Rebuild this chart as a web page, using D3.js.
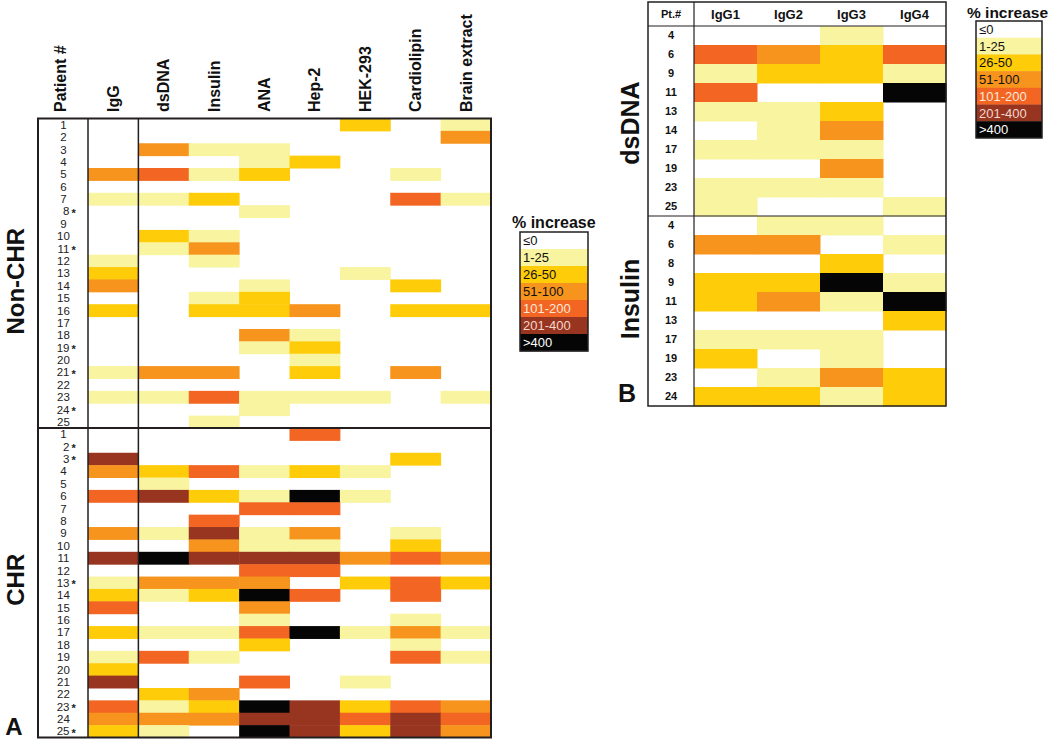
<!DOCTYPE html>
<html><head><meta charset="utf-8">
<script src="https://cdn.jsdelivr.net/npm/d3@7"></script>
<style>
body{margin:0;background:#fff;}
svg{display:block;font-family:"Liberation Sans",Arial,Helvetica,sans-serif;}
</style></head>
<body><svg id="chart" width="1050" height="740"></svg>
<script>
// ---------- DATA ----------
const columnsA = ["IgG","dsDNA","Insulin","ANA","Hep-2","HEK-293","Cardiolipin","Brain extract"];
const nonChrIds = d3.range(1,26).map(String);
const chrIds = d3.range(1,26).map(String);
const nonChrStars = ["8","11","19","21","24"];
const chrStars = ["2","3","13","23","25"];
// levels: 0 ≤0, 1 1-25, 2 26-50, 3 51-100, 4 101-200, 5 201-400, 6 >400
const nonChrLevels = [
  [0,0,0,0,0,2,0,1],
  [0,0,0,0,0,0,0,3],
  [0,3,1,1,0,0,0,0],
  [0,0,0,1,2,0,0,0],
  [3,4,1,2,0,0,1,0],
  [0,0,0,0,0,0,0,0],
  [1,1,2,0,0,0,4,1],
  [0,0,0,1,0,0,0,0],
  [0,0,0,0,0,0,0,0],
  [0,2,1,0,0,0,0,0],
  [0,1,3,0,0,0,0,0],
  [1,0,1,0,0,0,0,0],
  [2,0,0,0,0,1,0,0],
  [3,0,0,1,0,0,2,0],
  [0,0,1,2,0,0,0,0],
  [2,0,2,2,3,0,2,2],
  [0,0,0,0,0,0,0,0],
  [0,0,0,3,1,0,0,0],
  [0,0,0,1,2,0,0,0],
  [0,0,0,0,1,0,0,0],
  [1,3,3,0,2,0,3,0],
  [0,0,0,0,0,0,0,0],
  [1,1,4,1,1,1,0,1],
  [0,0,0,1,0,0,0,0],
  [0,0,1,0,0,0,0,0]
];
const chrLevels = [
  [0,0,0,0,4,0,0,0],
  [0,0,0,0,0,0,0,0],
  [5,0,0,0,0,0,2,0],
  [3,2,4,1,2,1,0,0],
  [0,1,0,0,0,0,0,0],
  [4,5,2,1,6,1,0,0],
  [0,0,0,4,4,0,0,0],
  [0,0,4,0,0,0,0,0],
  [3,1,5,1,3,0,1,0],
  [0,0,3,1,1,0,2,0],
  [5,6,5,5,5,3,4,3],
  [0,0,0,4,4,0,0,0],
  [1,3,3,3,0,2,4,2],
  [2,1,2,6,4,0,4,0],
  [4,0,0,3,0,0,0,0],
  [0,0,0,1,0,0,1,0],
  [2,1,1,4,6,1,3,1],
  [0,0,0,2,0,0,1,0],
  [1,4,1,0,0,0,4,1],
  [2,0,0,0,0,0,0,0],
  [5,0,0,4,0,1,0,0],
  [0,2,3,0,0,0,0,0],
  [4,1,2,6,5,2,4,3],
  [3,3,3,5,5,4,5,4],
  [2,1,0,6,5,2,5,3]
];
const columnsB = ["IgG1","IgG2","IgG3","IgG4"];
const dsdnaIds = ["4","6","9","11","13","14","17","19","23","25"];
const dsdnaLevels = [
  [0,0,1,0],[4,3,2,4],[1,2,2,1],[4,0,0,6],[1,1,2,0],
  [0,1,3,0],[1,1,1,0],[0,0,3,0],[1,1,1,0],[1,0,0,1]
];
const insulinIds = ["4","6","8","9","11","13","17","19","23","24"];
const insulinLevels = [
  [0,1,1,0],[3,3,0,1],[0,0,2,0],[2,2,6,1],[2,3,1,6],
  [0,0,0,2],[1,1,1,0],[2,0,1,0],[0,1,3,2],[2,2,1,2]
];
const legendLabels = ["≤0","1-25","26-50","51-100","101-200","201-400",">400"];
const legendColors = ["#ffffff","#f8f4a0","#ffcc0a","#f7941d","#f26522","#983520","#050505"];
const legendTextColors = ["#111","#111","#111","#111","#fde8dc","#f3d6cc","#ffffff"];

// ---------- DRAW ----------
const svg = d3.select("#chart");
const color = d3.scaleOrdinal().domain(d3.range(7)).range(legendColors);
const ink = "#231f20";

// ===== Panel A =====
const A = {left:38, idRight:88, right:491, top:118.5, bottom:737.5};
const rowKeysA = nonChrIds.map(d=>"n"+d).concat(chrIds.map(d=>"c"+d));
const xA = d3.scaleBand().domain(columnsA).range([A.idRight, A.right]);
const yA = d3.scaleBand().domain(rowKeysA).range([A.top, A.bottom]);

const cellsA = [];
nonChrLevels.forEach((row,i)=>row.forEach((v,j)=>cellsA.push({r:"n"+nonChrIds[i], c:columnsA[j], v})));
chrLevels.forEach((row,i)=>row.forEach((v,j)=>cellsA.push({r:"c"+chrIds[i], c:columnsA[j], v})));

svg.append("g").selectAll("rect").data(cellsA.filter(d=>d.v>0)).join("rect")
  .attr("x",d=>xA(d.c)).attr("y",d=>yA(d.r))
  .attr("width",xA.bandwidth()+0.5).attr("height",yA.bandwidth()+0.5)
  .attr("fill",d=>color(d.v));

// frame
const gA = svg.append("g").attr("fill","none").attr("stroke",ink);
gA.append("rect").attr("x",A.left).attr("y",A.top).attr("width",A.right-A.left).attr("height",A.bottom-A.top).attr("stroke-width",2);
gA.append("line").attr("x1",A.idRight).attr("x2",A.idRight).attr("y1",A.top).attr("y2",A.bottom).attr("stroke-width",1.5);
gA.append("line").attr("x1",xA("dsDNA")).attr("x2",xA("dsDNA")).attr("y1",A.top).attr("y2",A.bottom).attr("stroke-width",1.5);
gA.append("line").attr("x1",A.left).attr("x2",A.right).attr("y1",yA("c1")).attr("y2",yA("c1")).attr("stroke-width",2);

// row labels
const rowLab = svg.append("g").attr("font-size",11.5).attr("fill","#222");
function addRowLabels(ids, stars, prefix){
  ids.forEach(id=>{
    const y = yA(prefix+id)+yA.bandwidth()/2;
    const starred = stars.includes(id);
    rowLab.append("text").attr("x", starred?69.5:63.5).attr("y",y).attr("dy","0.36em")
      .attr("text-anchor", starred?"end":"middle").text(id);
    if(starred){
      rowLab.append("text").attr("x",71.5).attr("y",y).attr("dy","0.5em")
        .attr("font-size",11).attr("font-weight","bold").text("*");
    }
  });
}
addRowLabels(nonChrIds, nonChrStars, "n");
addRowLabels(chrIds, chrStars, "c");

// column headers
const headA = svg.append("g").attr("font-size",16).attr("font-weight","bold").attr("fill","#111");
headA.append("text").attr("transform",`translate(60,112) rotate(-90)`).attr("dy","0.36em").text("Patient #");
columnsA.forEach(c=>{
  headA.append("text").attr("transform",`translate(${xA(c)+xA.bandwidth()/2},112) rotate(-90)`)
    .attr("dy","0.36em").text(c);
});

// group labels
const grpA = svg.append("g").attr("font-weight","bold").attr("fill","#111").attr("text-anchor","middle");
grpA.append("text").attr("transform",`translate(15,${(yA("n1")+yA("c1"))/2+8}) rotate(-90)`).attr("dy","0.36em").attr("font-size",24).text("Non-CHR");
grpA.append("text").attr("transform",`translate(15,${(yA("c1")+A.bottom)/2-3}) rotate(-90)`).attr("dy","0.36em").attr("font-size",24).text("CHR");
grpA.append("text").attr("x",14).attr("y",735).attr("font-size",24).text("A");

// ===== Legend helper =====
function legend(x, y, w, rowH, titleX, titleY, titleSize){
  const g = svg.append("g");
  g.append("text").attr("x",titleX).attr("y",titleY).attr("font-size",titleSize).attr("font-weight","bold").attr("fill","#111").text("% increase");
  const ly = d3.scaleBand().domain(legendLabels).range([y, y+rowH*7]);
  g.selectAll("rect").data(legendLabels).join("rect")
    .attr("x",x).attr("y",d=>ly(d)).attr("width",w).attr("height",ly.bandwidth()+0.3)
    .attr("fill",(d,i)=>legendColors[i]);
  g.selectAll("text.l").data(legendLabels).join("text").attr("class","l")
    .attr("x",x+3).attr("y",d=>ly(d)+ly.bandwidth()/2).attr("dy","0.36em")
    .attr("font-size",13).attr("fill",(d,i)=>legendTextColors[i]).text(d=>d);
  g.append("rect").attr("x",x).attr("y",y).attr("width",w).attr("height",rowH*7)
    .attr("fill","none").attr("stroke",ink).attr("stroke-width",1.5);
}
legend(520, 232, 68, 17, 512, 228, 16);

// ===== Panel B =====
const B = {left:648, idRight:694, right:946, top:2, headBottom:26, bottom:406};
const rowKeysB = dsdnaIds.map(d=>"d"+d).concat(insulinIds.map(d=>"i"+d));
const xB = d3.scaleBand().domain(columnsB).range([B.idRight, B.right]);
const yB = d3.scaleBand().domain(rowKeysB).range([B.headBottom, B.bottom]);
const cellsB = [];
dsdnaLevels.forEach((row,i)=>row.forEach((v,j)=>cellsB.push({r:"d"+dsdnaIds[i], c:columnsB[j], v})));
insulinLevels.forEach((row,i)=>row.forEach((v,j)=>cellsB.push({r:"i"+insulinIds[i], c:columnsB[j], v})));
svg.append("g").selectAll("rect").data(cellsB.filter(d=>d.v>0)).join("rect")
  .attr("x",d=>xB(d.c)).attr("y",d=>yB(d.r))
  .attr("width",xB.bandwidth()+0.5).attr("height",yB.bandwidth()+0.5)
  .attr("fill",d=>color(d.v));

const gB = svg.append("g").attr("fill","none").attr("stroke",ink);
gB.append("rect").attr("x",B.left).attr("y",B.top).attr("width",B.right-B.left).attr("height",B.bottom-B.top).attr("stroke-width",1.5);
gB.append("line").attr("x1",B.idRight).attr("x2",B.idRight).attr("y1",B.top).attr("y2",B.bottom).attr("stroke-width",1.2);
gB.append("line").attr("x1",B.left).attr("x2",B.right).attr("y1",B.headBottom).attr("y2",B.headBottom).attr("stroke-width",1.2);
gB.append("line").attr("x1",B.left).attr("x2",B.right).attr("y1",yB("i4")).attr("y2",yB("i4")).attr("stroke-width",1.2);

const labB = svg.append("g").attr("font-weight","bold").attr("fill","#111").attr("text-anchor","middle");
labB.append("text").attr("x",(B.left+B.idRight)/2).attr("y",(B.top+B.headBottom)/2).attr("dy","0.36em").attr("font-size",11).text("Pt.#");
columnsB.forEach(c=>{
  labB.append("text").attr("x",xB(c)+xB.bandwidth()/2).attr("y",(B.top+B.headBottom)/2).attr("dy","0.36em").attr("font-size",13).text(c);
});
rowKeysB.forEach(k=>{
  labB.append("text").attr("x",(B.left+B.idRight)/2).attr("y",yB(k)+yB.bandwidth()/2).attr("dy","0.36em").attr("font-size",11).text(k.slice(1));
});
labB.append("text").attr("transform",`translate(630,${(yB("d4")+yB("i4"))/2+2}) rotate(-90)`).attr("dy","0.36em").attr("font-size",25).text("dsDNA");
labB.append("text").attr("transform",`translate(630,${(yB("i4")+B.bottom)/2-12}) rotate(-90)`).attr("dy","0.36em").attr("font-size",25).text("Insulin");
labB.append("text").attr("x",627).attr("y",402).attr("font-size",25).text("B");

legend(976, 21, 66, 16.7, 967, 18, 15.5);
</script></body></html>
